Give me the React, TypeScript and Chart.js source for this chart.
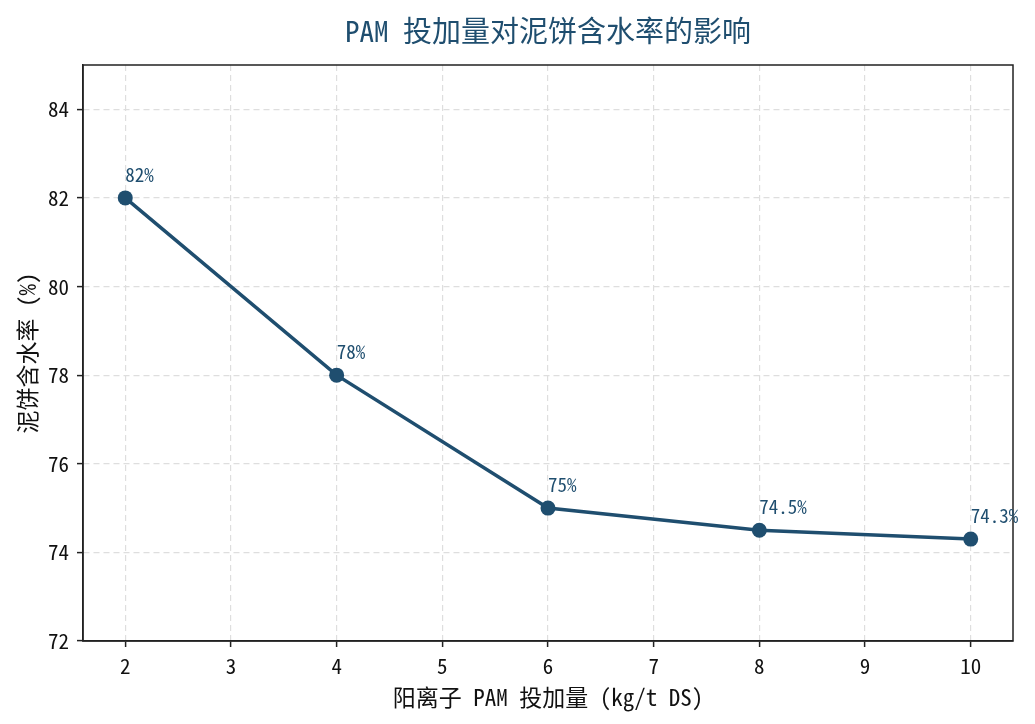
import { useEffect, useRef } from 'react'
import { Chart, registerables } from 'chart.js'

Chart.register(...registerables)

// dosage of cationic PAM (kg/t DS) and cake moisture (%)
const dosages = [2, 4, 6, 8, 10]
const moisture = [82, 78, 75, 74.5, 74.3]
const pointLabels = ['82%', '78%', '75%', '74.5%', '74.3%']
const xTicks = [2, 3, 4, 5, 6, 7, 8, 9, 10]
const yTicks = [72, 74, 76, 78, 80, 82, 84]

const titleText = 'PAM 投加量对泥饼含水率的影响'
const xTitle = '阳离子 PAM 投加量 (kg/t DS)'
const yTitle = '泥饼含水率 (%)'

const FONT = '"Noto Sans Mono CJK SC", "Noto Sans CJK SC", "DejaVu Sans Mono", sans-serif'
const BLUE = '#1f4e6f'

// frame, title and value labels
const extras = {
  id: 'extras',
  afterDraw(chart: Chart) {
    const { ctx, chartArea } = chart
    ctx.save()
    ctx.strokeStyle = '#222'
    ctx.lineWidth = 1.5
    ctx.strokeRect(chartArea.left, chartArea.top, chartArea.right - chartArea.left, chartArea.bottom - chartArea.top)

    ctx.fillStyle = BLUE
    ctx.font = `29px ${FONT}`
    ctx.textAlign = 'center'
    ctx.textBaseline = 'middle'
    ctx.fillText(titleText, (chartArea.left + chartArea.right) / 2, 31)

    const meta = chart.getDatasetMeta(0)
    ctx.font = `19px ${FONT}`
    ctx.textAlign = 'left'
    ctx.textBaseline = 'alphabetic'
    meta.data.forEach((pt, i) => {
      ctx.fillText(pointLabels[i], pt.x, pt.y - 16)
    })
    ctx.restore()
  },
}

const gridOpts = {
  color: '#dedede',
  lineWidth: 1.2,
  tickLength: 6,
  tickColor: '#222',
  tickWidth: 1.5,
  tickBorderDash: [],
}

const App = () => {
  const chartRef = useRef<HTMLCanvasElement | null>(null)

  useEffect(() => {
    const ctx = chartRef.current?.getContext('2d')
    if (!ctx) return

    const chart = new Chart(ctx, {
      type: 'line',
      data: {
        datasets: [
          {
            label: '泥饼含水率',
            data: dosages.map((x, i) => ({ x, y: moisture[i] })),
            borderColor: BLUE,
            backgroundColor: BLUE,
            borderWidth: 3.5,
            pointRadius: 7.5,
            pointHoverRadius: 7.5,
            pointBorderWidth: 0,
            tension: 0,
          },
        ],
      },
      options: {
        responsive: false,
        animation: false,
        layout: { padding: { top: 65, right: 22, left: 0, bottom: 0 } },
        plugins: {
          legend: { display: false },
          title: { display: false },
          tooltip: { enabled: false },
        },
        scales: {
          x: {
            type: 'linear',
            min: 1.6,
            max: 10.4,
            afterFit: (scale) => {
              scale.height = 83
            },
            afterBuildTicks: (scale) => {
              scale.ticks = xTicks.map((v) => ({ value: v }))
            },
            ticks: {
              color: '#111',
              padding: 6,
              font: { family: FONT, size: 21 },
            },
            grid: gridOpts,
            border: { display: true, color: '#222', width: 1.5, dash: [6, 4] },
            title: {
              display: true,
              text: xTitle,
              color: '#111',
              font: { family: FONT, size: 23 },
              padding: { top: 0, bottom: 13 },
            },
          },
          y: {
            min: 72,
            max: 85,
            afterFit: (scale) => {
              scale.width = 83
            },
            afterBuildTicks: (scale) => {
              scale.ticks = yTicks.map((v) => ({ value: v }))
            },
            ticks: {
              color: '#111',
              padding: 8,
              font: { family: FONT, size: 21 },
            },
            grid: gridOpts,
            border: { display: true, color: '#222', width: 1.5, dash: [6, 4] },
            title: {
              display: true,
              text: yTitle,
              color: '#111',
              font: { family: FONT, size: 23 },
              padding: { top: 13, bottom: 0 },
            },
          },
        },
      },
      plugins: [extras],
    })

    return () => {
      chart.destroy()
    }
  }, [])

  return (
    <div style={{ position: 'absolute', left: 0, top: 0, width: 1035, height: 724, background: '#fff' }}>
      <canvas ref={chartRef} width={1035} height={724} />
    </div>
  )
}

export default App
